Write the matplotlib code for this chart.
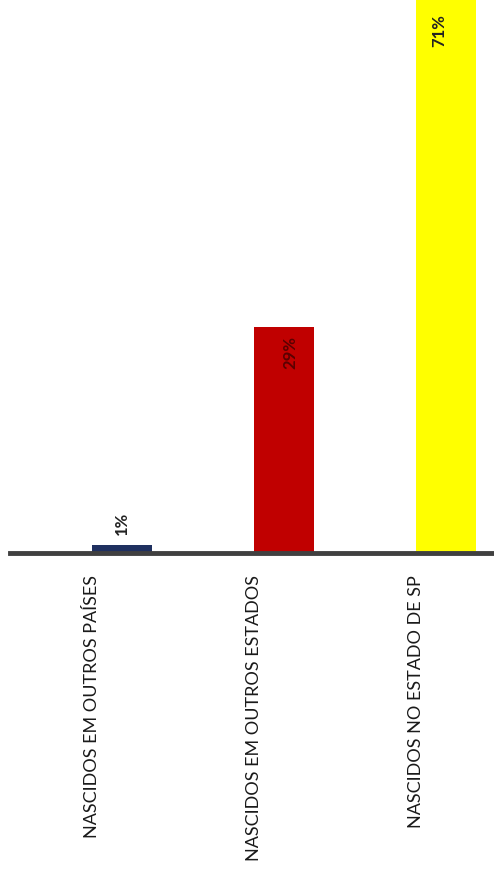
import numpy as np
import matplotlib.pyplot as plt
import matplotlib.transforms as mtransforms

# dados
categorias = ['NASCIDOS EM OUTROS PAÍSES', 'NASCIDOS EM OUTROS ESTADOS', 'NASCIDOS NO ESTADO DE SP']
valores = [1, 29, 71]
rotulos = ['1%', '29%', '71%']
cores = ['#1F3060', '#C00000', '#FFFF00']

plt.rcParams['font.family'] = ['Lato', 'DejaVu Sans']

fig = plt.figure(figsize=(4.94, 8.77), dpi=100)
ax = fig.add_axes([10 / 494, 324 / 877, 484 / 494, 553 / 877])

x = np.arange(len(categorias))
ax.bar(x, valores, width=0.37, color=cores, zorder=1)
ax.set_xlim(-0.691, -0.691 + 484 / 162)
ax.set_ylim(0, 71)

for s in ['top', 'left', 'right']:
    ax.spines[s].set_visible(False)
ax.spines['bottom'].set_linewidth(3.5)
ax.spines['bottom'].set_color('#404040')
ax.spines['bottom'].set_zorder(3)
ax.set_xticks([])
ax.set_yticks([])

# rotulos de valor
ax.text(x[0], valores[0] + 1.3, rotulos[0], rotation=90, ha='center', va='bottom',
        fontsize=12, fontweight='bold', color='#222222')
ax.text(x[1] + 0.04, valores[1] - 1.2, rotulos[1], rotation=90, ha='center', va='top',
        fontsize=12, fontweight='bold', color='#5a0000')
ax.text(x[2] - 0.04, valores[2] - 1.8, rotulos[2], rotation=90, ha='center', va='top',
        fontsize=12, fontweight='bold', color='#222222')

# rotulos das categorias
trans = mtransforms.blended_transform_factory(ax.transData, fig.transFigure)
for xi, cat in zip(x, categorias):
    ax.text(xi - 0.185, 1 - 575 / 877, cat, transform=trans, rotation=90,
            ha='center', va='top', fontsize=13, color='#1a1a1a', clip_on=False)

fig.savefig('out.png', dpi=100)
